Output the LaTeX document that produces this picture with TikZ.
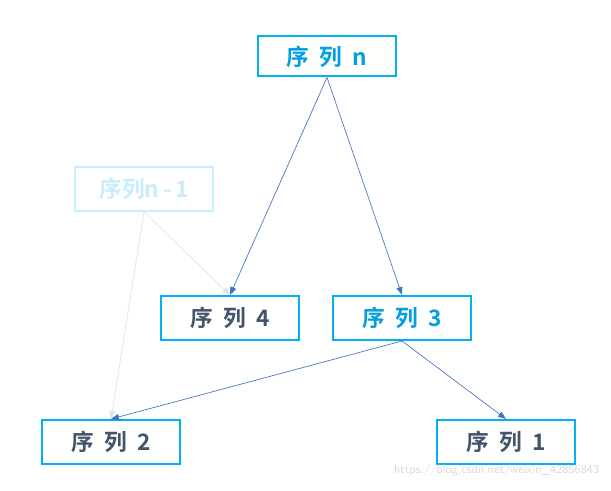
\documentclass[tikz,border=0pt]{standalone}
\usepackage{fontspec}
\newfontfamily\cjk{Noto Sans CJK SC Bold}
\usetikzlibrary{arrows.meta}
\definecolor{boxcyan}{HTML}{00B0F0}
\definecolor{txtcyan}{HTML}{00A0E0}
\definecolor{txtdark}{HTML}{44546A}
\definecolor{linkblue}{HTML}{4472C4}
\definecolor{faint}{HTML}{C8EEFB}
\tikzset{
  seqbox/.style={draw=boxcyan,line width=1.5pt,fill=white,minimum width=103pt,minimum height=30pt,inner sep=0pt,font=\cjk\fontsize{17}{17}\selectfont},
  link/.style={linkblue,line width=.5pt,-{Triangle[length=6pt,width=4.5pt]}},
}
\begin{document}
\begin{tikzpicture}[x=.75pt,y=-.75pt]
	\useasboundingbox (0,0) rectangle (611,491);
	%nos
	\node[seqbox,text=txtcyan] (sn) at (327,56.5) {序\ \ 列\ \ n};
	\node[seqbox,draw=faint,text=faint,minimum height=33pt] (snm) at (144,189) {序列n\,-\,1};
	\node[seqbox,text=txtdark,minimum height=33pt] (s4) at (230,318) {序\ \ 列\ \ 4};
	\node[seqbox,text=txtcyan,minimum height=33pt] (s3) at (402,318) {序\ \ 列\ \ 3};
	\node[seqbox,text=txtdark,minimum height=33pt] (s2) at (111,442) {序\ \ 列\ \ 2};
	\node[seqbox,text=txtdark,minimum height=33pt] (s1) at (506,442) {序\ \ 列\ \ 1};
	%ligacoes
	\draw[link,draw=linkblue!20,fill=linkblue!20] (snm.south) -- (s4.north);
	\draw[link,draw=linkblue!20,fill=linkblue!20] (snm.south) -- (s2.north);
	\draw[link] (sn.south) -- (s4.north);
	\draw[link] (sn.south) -- (s3.north);
	\draw[link] (s3.south) -- (s2.north);
	\draw[link] (s3.south) -- (s1.north);
	%marca
	\node[text=black!15,font=\sffamily\small,anchor=east] (wm) at (604,471) {https://blog.csdn.net/weixin\_42856843};
\end{tikzpicture}
\end{document}
